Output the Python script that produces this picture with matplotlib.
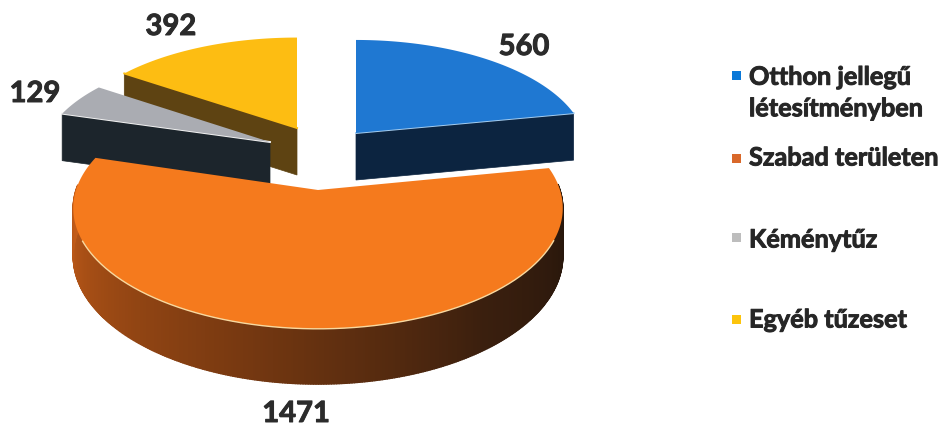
"""Exploded 3D-looking pie of fire incident counts, drawn with plain polygons."""
import matplotlib
matplotlib.use("Agg")
import matplotlib.pyplot as plt
import matplotlib.patheffects as pe
import numpy as np
from matplotlib.collections import PolyCollection
from matplotlib.colors import to_rgb
from matplotlib.patches import Polygon, Rectangle

categories = ["Otthon jellegű\nlétesítményben", "Szabad területen", "Kéménytűz", "Egyéb tűzeset"]
values = [560, 1471, 129, 392]

plt.rcParams["font.family"] = ["Lato", "DejaVu Sans"]

TOP = ["#1f78d2", "#f57a1d", "#aaacb2", "#fdbd12"]
SIDE = ["#0c2440", "#000000", "#1c252c", "#5e4312"]
EDGE = ["#a5cdf0", "#f8d9a0", "#f2f2f2", "#fdbd12"]
SWATCH = ["#0a78d8", "#d9682a", "#bdbdbd", "#fcc40c"]

# layout per slice: apex in pixels, radii of the disc
APEX = [(356, 133), (318, 190), (270, 142), (297, 128)]
RX = [228, 242, 226, 228]
RY = [107, 118, 104, 104]
DEPTH = 47
PERSP = 0.15


def project(theta, apex, rx, ry):
    # theta clockwise from the top, back of the disc is foreshortened
    u, v = np.sin(theta), np.cos(theta)
    s = 1 / (1 + PERSP * v)
    return apex[0] + rx * u * s, apex[1] - ry * v * s, s


fig = plt.figure(figsize=(9.44, 4.26), dpi=100)
ax = fig.add_axes([0, 0, 1, 1])
ax.set_xlim(0, 944)
ax.set_ylim(426, 0)
ax.axis("off")

edges = np.cumsum([0] + values) / sum(values) * 2 * np.pi

# back slices first, orange one sits in front of everything
for i in [3, 2, 0, 1]:
    t = np.linspace(edges[i], edges[i + 1], 400)
    x, y, s = project(t, APEX[i], RX[i], RY[i])
    ax0, ay0 = APEX[i]

    if i == 1:
        # curved rim, dark on the right and lighter towards the left
        front = np.cos(t) < 0.05
        xf, yf, sf = x[front], y[front], s[front]
        tf = np.linspace(0, 1, len(xf) - 1)
        stops = [to_rgb("#22140b"), to_rgb("#3a1f0e"), to_rgb("#7a3a11"), to_rgb("#c45c18")]
        cols = [tuple(np.interp(a, [0, .3, .6, 1], [c[k] for c in stops]) for k in range(3)) for a in tf]
        quads = [[(xf[j], yf[j]), (xf[j + 1], yf[j + 1]),
                  (xf[j + 1], yf[j + 1] + DEPTH * sf[j + 1]), (xf[j], yf[j] + DEPTH * sf[j])]
                 for j in range(len(xf) - 1)]
        ax.add_collection(PolyCollection(quads, facecolors=cols, edgecolors=cols, linewidths=1.0))
        lit = np.cos(t) < -0.4
        ax.plot(x[lit], y[lit], color=EDGE[i], lw=1.0, zorder=4)
    else:
        # the straight cut face that looks to the viewer
        ex, ey = (x[-1], y[-1]) if i == 0 else (x[0], y[0])
        ax.add_patch(Polygon([(ax0, ay0), (ex, ey), (ex, ey + DEPTH), (ax0, ay0 + DEPTH)],
                             fc=SIDE[i], ec=SIDE[i], lw=0.5))
        ax.plot([ax0, ex], [ay0, ey], color=EDGE[i], lw=1.4, zorder=3)

    ax.add_patch(Polygon(np.column_stack([np.r_[ax0, x], np.r_[ay0, y]]), fc=TOP[i], ec="none", zorder=3))

heavy = [pe.withStroke(linewidth=0.7, foreground="#2b2b2b")]

# value labels
label_xy = [(524, 47), (296, 414), (35, 94), (171, 27)]
for val, (lx, ly) in zip(values, label_xy):
    ax.text(lx, ly, str(val), fontsize=21, fontweight="bold", color="#2b2b2b",
            ha="center", va="center", path_effects=heavy)

# legend
legend_y = [75, 158, 237, 319]
text_y = [93, 158, 240, 320]
for name, c, ys, yt in zip(categories, SWATCH, legend_y, text_y):
    ax.add_patch(Rectangle((732, ys - 4.5), 9, 9, fc=c, ec="none"))
    ax.text(749, yt, name, fontsize=18.2, fontweight="bold", color="#262626",
            ha="left", va="center", linespacing=1.45, path_effects=heavy)

fig.savefig("out.png", dpi=100)
